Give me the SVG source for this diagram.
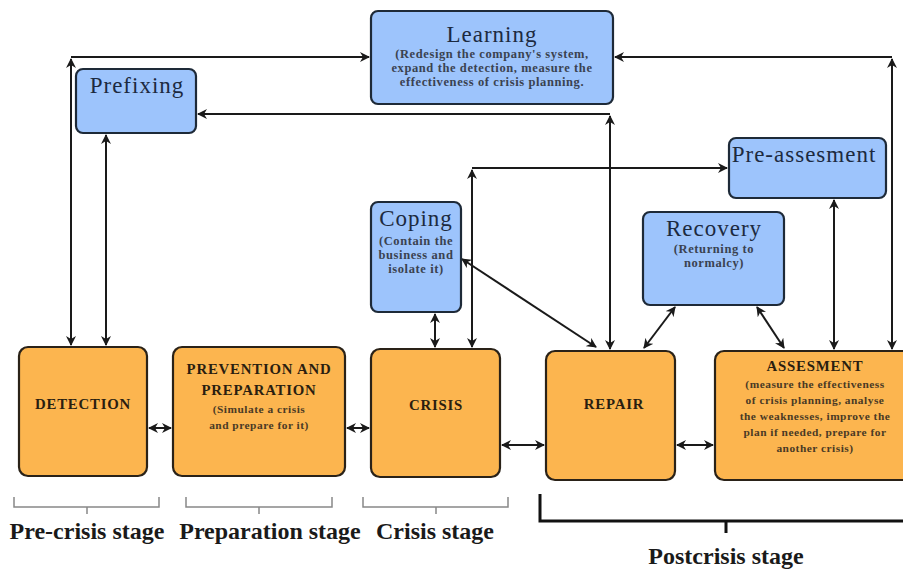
<svg xmlns="http://www.w3.org/2000/svg" width="903" height="570" viewBox="0 0 903 570">
<style>
.blue{fill:#9dc4fc;stroke:#1e2a38;stroke-width:2.2}
.orange{fill:#fcb54f;stroke:#2a2218;stroke-width:2.2}
.title{font-family:"Liberation Serif",serif;font-size:23px;fill:#1c2a40;text-anchor:middle;letter-spacing:1px}
.sub{font-family:"Liberation Serif",serif;font-size:12.5px;font-weight:bold;fill:#3a4250;text-anchor:middle;letter-spacing:0.6px}
.otitle{font-family:"Liberation Serif",serif;font-size:14.8px;font-weight:bold;fill:#2a1e10;text-anchor:middle;letter-spacing:0.8px}
.osub{font-family:"Liberation Serif",serif;font-size:11.4px;font-weight:bold;fill:#4a3a25;text-anchor:middle;letter-spacing:0.5px}
.stage{font-family:"Liberation Serif",serif;font-size:24px;font-weight:bold;fill:#1a1a1a;text-anchor:middle}
.conn{stroke:#1a1a1a;stroke-width:2;fill:none}
.brk{stroke:#888;stroke-width:1.5;fill:none}
</style>
<defs>
<marker id="ah" viewBox="0 0 10 10" refX="9" refY="5" markerWidth="5" markerHeight="5" orient="auto-start-reverse" markerUnits="strokeWidth">
<path d="M0,0 L10,5 L0,10 L3,5 z" fill="#1a1a1a"/>
</marker>
</defs>

<g id="connectors">
<line class="conn" x1="71" y1="59" x2="71" y2="345" marker-start="url(#ah)" marker-end="url(#ah)"/>
<line class="conn" x1="71" y1="57" x2="369" y2="57" marker-end="url(#ah)"/>
<line class="conn" x1="106" y1="135" x2="106" y2="345" marker-start="url(#ah)" marker-end="url(#ah)"/>
<line class="conn" x1="198" y1="114" x2="610" y2="114" marker-start="url(#ah)"/>
<line class="conn" x1="610" y1="116" x2="610" y2="349" marker-start="url(#ah)" marker-end="url(#ah)"/>
<line class="conn" x1="615" y1="57" x2="892" y2="57" marker-start="url(#ah)"/>
<line class="conn" x1="892" y1="59" x2="892" y2="349" marker-start="url(#ah)" marker-end="url(#ah)"/>
<line class="conn" x1="472" y1="168" x2="727" y2="168" marker-end="url(#ah)"/>
<line class="conn" x1="472" y1="170" x2="472" y2="347" marker-start="url(#ah)" marker-end="url(#ah)"/>
<line class="conn" x1="834" y1="200" x2="834" y2="349" marker-start="url(#ah)" marker-end="url(#ah)"/>
<line class="conn" x1="675" y1="307" x2="644" y2="348" marker-start="url(#ah)" marker-end="url(#ah)"/>
<line class="conn" x1="757" y1="307" x2="784" y2="348" marker-start="url(#ah)" marker-end="url(#ah)"/>
<line class="conn" x1="435" y1="314" x2="435" y2="347" marker-start="url(#ah)" marker-end="url(#ah)"/>
<line class="conn" x1="462" y1="259" x2="596" y2="347" marker-start="url(#ah)" marker-end="url(#ah)"/>
<line class="conn" x1="149" y1="428" x2="171" y2="428" marker-start="url(#ah)" marker-end="url(#ah)"/>
<line class="conn" x1="347" y1="428" x2="369" y2="428" marker-start="url(#ah)" marker-end="url(#ah)"/>
<line class="conn" x1="502" y1="445" x2="544" y2="445" marker-start="url(#ah)" marker-end="url(#ah)"/>
<line class="conn" x1="677" y1="445" x2="713" y2="445" marker-start="url(#ah)" marker-end="url(#ah)"/>
</g>

<g id="learning">
<rect class="blue" x="371" y="11" width="242" height="93" rx="7"/>
<text class="title" x="492" y="42">Learning</text>
<text class="sub" x="492" y="58">(Redesign the company's system,</text>
<text class="sub" x="492" y="72">expand the detection, measure the</text>
<text class="sub" x="492" y="86">effectiveness of crisis planning.</text>
</g>

<g id="prefixing">
<rect class="blue" x="76" y="69" width="120" height="64" rx="7"/>
<text class="title" x="137" y="93">Prefixing</text>
</g>

<g id="preassesment">
<rect class="blue" x="729" y="138" width="157" height="60" rx="7"/>
<text class="title" x="804" y="162">Pre-assesment</text>
</g>

<g id="recovery">
<rect class="blue" x="643" y="212" width="141" height="93" rx="7"/>
<text class="title" x="714" y="236">Recovery</text>
<text class="sub" x="714" y="253">(Returning to</text>
<text class="sub" x="714" y="267">normalcy)</text>
</g>

<g id="coping">
<rect class="blue" x="371" y="202" width="90" height="110" rx="7"/>
<text class="title" x="416" y="226">Coping</text>
<text class="sub" x="416" y="245">(Contain the</text>
<text class="sub" x="416" y="259">business and</text>
<text class="sub" x="416" y="273">isolate it)</text>
</g>

<g id="detection">
<rect class="orange" x="19" y="347" width="128" height="129" rx="9"/>
<text class="otitle" x="83" y="409">DETECTION</text>
</g>

<g id="prevention">
<rect class="orange" x="173" y="347" width="172" height="129" rx="9"/>
<text class="otitle" x="259" y="374">PREVENTION AND</text>
<text class="otitle" x="259" y="395">PREPARATION</text>
<text class="osub" x="259" y="413">(Simulate a crisis</text>
<text class="osub" x="259" y="429">and prepare for it)</text>
</g>

<g id="crisis">
<rect class="orange" x="371" y="349" width="129" height="128" rx="9"/>
<text class="otitle" x="436" y="410">CRISIS</text>
</g>

<g id="repair">
<rect class="orange" x="546" y="351" width="129" height="129" rx="9"/>
<text class="otitle" x="614" y="409">REPAIR</text>
</g>

<g id="assesment">
<rect class="orange" x="715" y="351" width="200" height="129" rx="9"/>
<text class="otitle" x="815" y="371">ASSESMENT</text>
<text class="osub" x="815" y="388">(measure the effectiveness</text>
<text class="osub" x="815" y="404">of crisis planning, analyse</text>
<text class="osub" x="815" y="420">the weaknesses, improve the</text>
<text class="osub" x="815" y="436">plan if needed, prepare for</text>
<text class="osub" x="815" y="452">another crisis)</text>
</g>

<g id="stages">
<path class="brk" d="M14,497 V507 H159 V497 M87,507 V514"/>
<path class="brk" d="M186,497 V507 H332 V497 M259,507 V514"/>
<path class="brk" d="M363,497 V507 H508 V497 M436,507 V514"/>
<path d="M540,494 V521 H905 M726,521 V533" stroke="#111" stroke-width="3" fill="none"/>
<text class="stage" x="87" y="539">Pre-crisis stage</text>
<text class="stage" x="270" y="539">Preparation stage</text>
<text class="stage" x="435" y="539">Crisis stage</text>
<text class="stage" x="726" y="564">Postcrisis stage</text>
</g>
</svg>
